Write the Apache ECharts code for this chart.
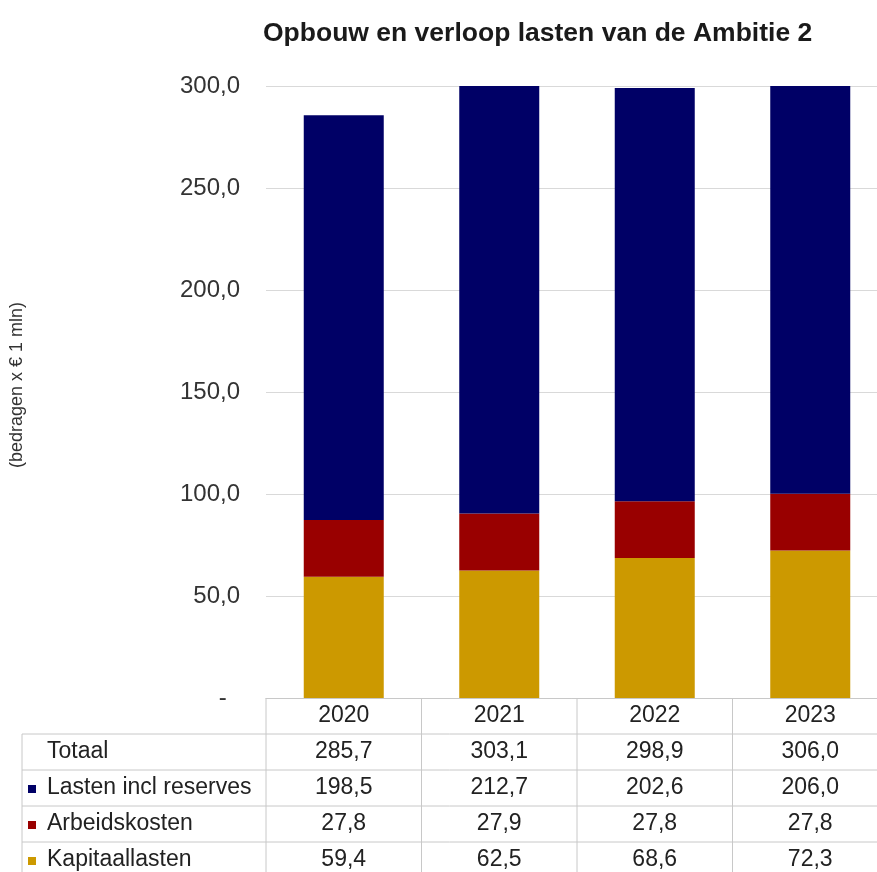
<!DOCTYPE html>
<html>
<head>
<meta charset="utf-8">
<script src="https://cdn.jsdelivr.net/npm/echarts@6/dist/echarts.min.js"></script>
<style>
html,body{margin:0;padding:0;background:#fff;}
#chart{width:877px;height:872px;}
</style>
</head>
<body>
<div id="chart"></div>
<script>
const categories = ['2020', '2021', '2022', '2023'];
const kapitaallasten = [59.4, 62.5, 68.6, 72.3];
const arbeidskosten = [27.8, 27.9, 27.8, 27.8];
const lastenInclReserves = [198.5, 212.7, 202.6, 206.0];
const totaal = [285.7, 303.1, 298.9, 306.0];
const rowLabels = ['Totaal', 'Lasten incl reserves', 'Arbeidskosten', 'Kapitaallasten'];
const titleText = 'Opbouw en verloop lasten van de Ambitie 2';
const yAxisTitle = '(bedragen x € 1 mln)';

const colors = { lasten: '#000066', arbeid: '#990000', kapitaal: '#CC9900' };
const FONT = '"Liberation Sans", Arial, sans-serif';
const GRID_LEFT = 266, GRID_TOP = 86, GRID_W = 622, GRID_H = 612;
const ROW_H = 36;
const LINE_COLOR = '#c8c8c8';

function fmt(v) { return v.toFixed(1).replace('.', ','); }

const chart = echarts.init(document.getElementById('chart'));

const rowColors = [null, colors.lasten, colors.arbeid, colors.kapitaal];
const graphics = [];
// y axis title
graphics.push({
  type: 'text', x: 17, y: 385, rotation: Math.PI / 2,
  style: { text: yAxisTitle, font: '18px ' + FONT, fill: '#333', align: 'center', verticalAlign: 'middle' }
});
// table row labels and legend keys
rowLabels.forEach(function (lab, r) {
  const cy = GRID_TOP + GRID_H + ROW_H * (r + 1) + ROW_H / 2;
  graphics.push({
    type: 'text', x: 47, y: cy,
    style: { text: lab, font: '23px ' + FONT, fill: '#222', align: 'left', verticalAlign: 'middle' }
  });
  if (rowColors[r]) {
    graphics.push({ type: 'rect', shape: { x: 28, y: cy - 3, width: 8, height: 8 }, style: { fill: rowColors[r] } });
  }
});
// table borders
const tableTop = GRID_TOP + GRID_H;
for (let r = 1; r <= 5; r++) {
  const y = tableTop + ROW_H * r;
  graphics.push({ type: 'line', shape: { x1: 22, y1: y, x2: 877, y2: y }, style: { stroke: LINE_COLOR, lineWidth: 1 } });
}
graphics.push({ type: 'line', shape: { x1: 22, y1: tableTop + ROW_H, x2: 22, y2: 872 }, style: { stroke: LINE_COLOR, lineWidth: 1 } });
for (let c = 0; c <= categories.length; c++) {
  const x = GRID_LEFT + c * GRID_W / categories.length;
  graphics.push({ type: 'line', shape: { x1: x, y1: tableTop, x2: x, y2: 872 }, style: { stroke: LINE_COLOR, lineWidth: 1 } });
}

chart.setOption({
  animation: false,
  backgroundColor: '#fff',
  title: {
    text: titleText, left: 258, top: 15,
    textStyle: { fontFamily: FONT, fontSize: 26.5, fontWeight: 'bold', color: '#1a1a1a' }
  },
  grid: { left: GRID_LEFT, top: GRID_TOP, width: GRID_W, height: GRID_H, containLabel: false, outerBoundsMode: 'none' },
  xAxis: {
    type: 'category', data: categories,
    axisLine: { show: true, lineStyle: { color: LINE_COLOR } },
    axisTick: { show: false },
    axisLabel: {
      margin: 0, fontFamily: FONT, fontSize: 23, color: '#222', lineHeight: ROW_H,
      formatter: function (val, idx) {
        return [val, fmt(totaal[idx]), fmt(lastenInclReserves[idx]), fmt(arbeidskosten[idx]), fmt(kapitaallasten[idx])].join('\n');
      }
    }
  },
  yAxis: {
    type: 'value', min: 0, max: 300, interval: 50,
    axisLine: { show: false }, axisTick: { show: false },
    splitLine: { lineStyle: { color: '#d9d9d9', width: 1 } },
    axisLabel: {
      margin: 26, fontFamily: FONT, fontSize: 24, color: '#333',
      formatter: function (v) { return v === 0 ? '-  ' : fmt(v); }
    }
  },
  graphic: graphics,
  series: [
    { name: 'Kapitaallasten', type: 'bar', stack: 'a', barWidth: 80, data: kapitaallasten, itemStyle: { color: colors.kapitaal } },
    { name: 'Arbeidskosten', type: 'bar', stack: 'a', barWidth: 80, data: arbeidskosten, itemStyle: { color: colors.arbeid } },
    { name: 'Lasten incl reserves', type: 'bar', stack: 'a', barWidth: 80, data: lastenInclReserves, itemStyle: { color: colors.lasten } }
  ]
});
</script>
</body>
</html>
